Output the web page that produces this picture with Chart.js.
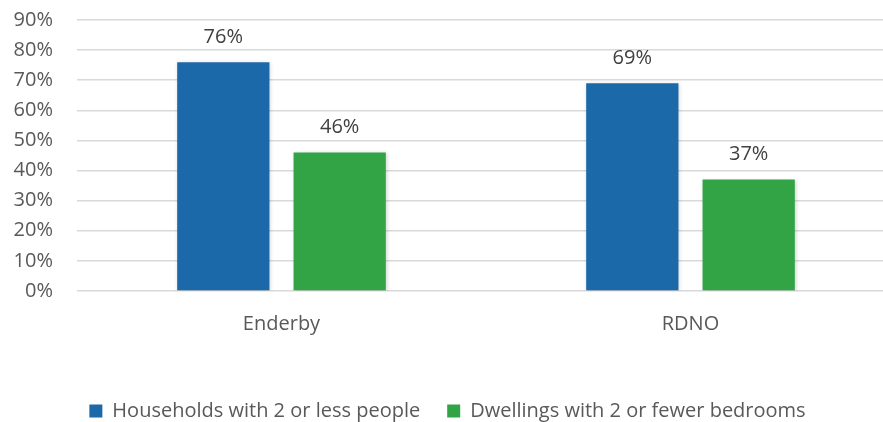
<!DOCTYPE html>
<html lang="en">
<head>
  <meta charset="UTF-8" />
  <title>Household size vs bedrooms</title>
  <script src="https://cdn.jsdelivr.net/npm/chart.js"></script>
  <style>
    html, body {
      margin: 0;
      padding: 0;
      background: #fff;
      overflow: hidden;
    }
    .chart-box {
      width: 895px;
      height: 422px;
    }
  </style>
</head>
<body>

<div class="chart-box">
  <canvas id="grafico"></canvas>
</div>

<script>
  // Dati
  const categorie = ['Enderby', 'RDNO'];
  const famiglie = [76, 69];
  const alloggi = [46, 37];
  const serieNomi = ['Households with 2 or less people', 'Dwellings with 2 or fewer bedrooms'];
  const colori = ['#1c69aa', '#33a446'];

  const testo = '#595959';
  const font = "'Open Sans', sans-serif";

  // etichette sopra le barre
  const etichette = {
    id: 'etichette',
    afterDatasetsDraw(chart) {
      const ctx = chart.ctx;
      ctx.save();
      ctx.fillStyle = '#404040';
      ctx.font = '20px ' + font;
      ctx.textAlign = 'center';
      ctx.textBaseline = 'middle';
      chart.data.datasets.forEach((ds, i) => {
        chart.getDatasetMeta(i).data.forEach((bar, j) => {
          ctx.fillText(ds.data[j] + '%', bar.x, bar.y - 25);
        });
      });
      ctx.restore();
    }
  };

  // leggera ombra sulle barre
  const ombra = {
    id: 'ombra',
    beforeDatasetsDraw(chart) {
      chart.ctx.save();
      chart.ctx.shadowColor = 'rgba(0,0,0,0.18)';
      chart.ctx.shadowBlur = 4;
      chart.ctx.shadowOffsetX = 1;
      chart.ctx.shadowOffsetY = 1;
    },
    afterDatasetsDraw(chart) {
      chart.ctx.restore();
    }
  };

  new Chart(document.getElementById('grafico'), {
    type: 'bar',
    data: {
      labels: categorie,
      datasets: [{
        label: serieNomi[0],
        data: famiglie,
        backgroundColor: colori[0]
      }, {
        label: serieNomi[1],
        data: alloggi,
        backgroundColor: colori[1]
      }]
    },
    options: {
      responsive: true,
      maintainAspectRatio: false,
      animation: false,
      categoryPercentage: 0.569,
      barPercentage: 0.793,
      layout: { padding: { top: 20, bottom: -9 } },
      plugins: {
        tooltip: { enabled: false },
        legend: {
          position: 'bottom',
          labels: {
            boxWidth: 13,
            boxHeight: 13,
            padding: 27,
            color: testo,
            font: { family: font, size: 20 }
          }
        }
      },
      scales: {
        x: {
          grid: { display: false, drawTicks: false },
          border: { display: false },
          ticks: {
            color: testo,
            padding: 21,
            font: { family: font, size: 20 }
          },
          afterFit(s) { s.height = 83; }
        },
        y: {
          min: 0,
          max: 90,
          grid: { color: '#d9d9d9', lineWidth: 1.5, drawTicks: false },
          border: { display: false },
          ticks: {
            stepSize: 10,
            color: testo,
            padding: 24,
            font: { family: font, size: 20 },
            callback: v => v + '%'
          },
          afterFit(s) {
            s.width = 77;
            s.paddingTop = 0;
            s.paddingBottom = 0;
          }
        }
      }
    },
    plugins: [ombra, etichette]
  });
</script>

</body>
</html>
